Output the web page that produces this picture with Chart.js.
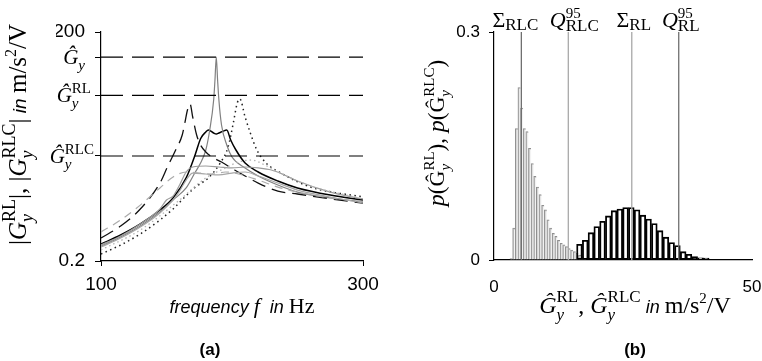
<!DOCTYPE html>
<html>
<head>
<meta charset="utf-8">
<script src="https://cdn.jsdelivr.net/npm/chart.js@4.4.1/dist/chart.umd.min.js"></script>
<style>
  html, body { margin: 0; padding: 0; background: #fff; }
  #wrap { position: relative; width: 762px; height: 361px; }
  canvas { position: absolute; top: 0; }
  #resp { left: 0; }
  #hist { left: 381px; }
</style>
</head>
<body>
<div id="wrap">
  <canvas id="resp" width="381" height="361"></canvas>
  <canvas id="hist" width="381" height="361"></canvas>
</div>
<script>
// ---- (a) frequency responses, |G| in m/s^2/V ----
const GY_HAT = 94;
const GRL_HAT = 29.6;
const GRLC_HAT = 4.75;

const fGy = [100, 115, 130, 145, 155, 165, 172, 176, 180, 183, 186, 187, 188, 189, 190, 192, 196, 200, 210, 220, 235, 250, 275, 300];
const magGy = [0.314, 0.413, 0.575, 0.877, 1.26, 1.81, 2.93, 3.84, 5.69, 10.4, 25.7, 47, 94, 47, 25.7, 12.1, 6.62, 4.61, 3.31, 2.60, 1.98, 1.60, 1.34, 1.19];

const fRL1 = [100, 115, 130, 145, 155, 165, 172, 176, 180, 182, 186, 188, 190, 193, 196, 199, 203, 210, 220, 235, 250, 275, 300];
const magRL1 = [0.334, 0.438, 0.611, 0.931, 1.34, 2.45, 5.0, 8.0, 9.80, 10.4, 9.50, 9.22, 9.50, 10.0, 10.4, 7.69, 5.69, 3.84, 2.93, 2.23, 1.81, 1.46, 1.26];

const fRL2 = [100, 115, 130, 145, 151, 157, 162, 164, 166, 168, 170, 173, 176, 180, 186, 192, 202, 210, 220, 235, 250, 275, 300];
const magRL2 = [0.400, 0.575, 0.960, 2.10, 3.51, 5.69, 8.95, 12.85, 19.0, 22.8, 15.4, 8.95, 6.62, 5.36, 4.47, 3.96, 3.11, 2.60, 2.10, 1.65, 1.51, 1.30, 1.15];

const fRL3 = [100, 115, 130, 145, 155, 164, 172, 182, 191, 197, 201, 204, 206, 210, 214, 219, 226, 236, 260, 300];
const magRL3 = [0.247, 0.324, 0.452, 0.689, 0.960, 1.38, 1.86, 2.45, 3.84, 6.23, 12.85, 23.5, 26.5, 15.4, 9.50, 5.69, 3.84, 2.93, 1.86, 1.38];

const fRLC1 = [100, 115, 130, 145, 150, 155, 160, 165, 170, 180, 190, 200, 210, 220, 230, 240, 250, 275, 300];
const magRLC1 = [0.324, 0.425, 0.611, 0.960, 1.26, 1.42, 1.98, 2.93, 3.41, 3.51, 3.41, 3.31, 3.41, 3.31, 3.11, 2.68, 2.23, 1.60, 1.30];

const fRLC2 = [100, 115, 130, 145, 155, 160, 165, 170, 180, 190, 200, 210, 220, 235, 250, 275, 300];
const magRLC2 = [0.305, 0.400, 0.558, 0.851, 1.26, 1.65, 2.30, 2.84, 2.76, 2.68, 2.84, 2.93, 2.60, 2.10, 1.70, 1.38, 1.15];

const fRLC3 = [100, 115, 130, 145, 155, 165, 175, 185, 195, 205, 220, 235, 250, 275, 300];
const magRLC3 = [0.480, 0.689, 1.08, 1.81, 2.52, 2.93, 2.84, 2.76, 2.93, 2.76, 2.30, 1.86, 1.60, 1.34, 1.19];

const fRLC4 = [100, 130, 160, 180, 195, 205, 215, 225, 240, 260, 280, 300];
const magRLC4 = [0.279, 0.509, 1.26, 2.45, 3.31, 3.96, 4.21, 3.62, 2.68, 1.92, 1.56, 1.30];

const freqTicks = [100, 300];
const magTicks = [0.2, GRLC_HAT, GRL_HAT, GY_HAT, 200];

// ---- (b) histograms of the peak magnitudes ----
const rlcBins = [3.36, 3.87, 4.38, 4.89, 5.40, 5.91, 6.42, 6.93, 7.44, 7.95, 8.46, 8.97, 9.48, 9.99, 10.50,
  11.01, 11.52, 12.03, 12.54, 13.05, 13.56, 14.07, 14.58, 15.09, 15.60, 16.11, 16.62, 17.13, 17.64];
const pRLC = [0.002, 0.042, 0.173, 0.227, 0.200, 0.173, 0.169, 0.147, 0.127, 0.110, 0.096, 0.086, 0.072, 0.066, 0.053,
  0.042, 0.035, 0.031, 0.026, 0.022, 0.020, 0.0175, 0.015, 0.013, 0.011, 0.009, 0.0066, 0.0044, 0.002];

const rlBins = [16.56, 17.68, 18.79, 19.91, 21.03, 22.15, 23.26, 24.38, 25.50, 26.61, 27.73, 28.85,
  29.96, 31.08, 32.20, 33.32, 34.43, 35.55, 36.67, 37.78, 38.90, 40.02, 41.13];
const pRL = [0.0206, 0.026, 0.036, 0.044, 0.051, 0.058, 0.065, 0.067, 0.069, 0.069, 0.066, 0.059,
  0.054, 0.048, 0.0386, 0.030, 0.023, 0.019, 0.011, 0.0075, 0.0044, 0.003, 0.0026];

const SUM_RLC = 5.3, Q95_RLC = 14.4, SUM_RL = 26.7, Q95_RL = 35.8;
const histXTicks = [0, 50];
const histYTicks = [0, 0.3];

// ---- text helpers: runs of differently styled text on one baseline ----
const SERIF = '"Liberation Serif", "DejaVu Serif", serif';
const SANS = '"Liberation Sans", Arial, sans-serif';
const ser = (s, it) => `${it ? 'italic ' : ''}${s}px ${SERIF}`;
const san = (s, it, b) => `${it ? 'italic ' : ''}${b ? 'bold ' : ''}${s}px ${SANS}`;
const T = (t, font, dy = 0, stack = false) => ({ t, font, dy, stack });

// G with subscript y and a superscript stacked above it
function gSym(sup, size, hat, upright) {
  const sm = Math.round(size * 0.7);
  const runs = [T(hat ? 'Ĝ' : 'G', ser(size, !upright)), T('y', ser(sm, true), size * 0.28)];
  if (sup) runs.push(T(sup, ser(sm), -size * 0.45, true));
  return runs;
}

function drawRich(ctx, runs, x, y, align, angle) {
  ctx.save();
  ctx.translate(x, y);
  if (angle) ctx.rotate(angle);
  let cur = 0, lastStart = 0, lastEnd = 0;
  const placed = runs.map(r => {
    ctx.font = r.font;
    const w = ctx.measureText(r.t).width;
    const start = r.stack ? lastStart : cur;
    const end = start + w;
    cur = r.stack ? Math.max(lastEnd, end) : end;
    lastStart = start;
    lastEnd = cur;
    return { r, x: start };
  });
  const x0 = align === 'center' ? -cur / 2 : align === 'right' ? -cur : 0;
  ctx.fillStyle = '#000';
  ctx.textAlign = 'left';
  ctx.textBaseline = 'alphabetic';
  placed.forEach(p => { ctx.font = p.r.font; ctx.fillText(p.r.t, x0 + p.x, p.r.dy); });
  ctx.restore();
}

const zip = (xs, ys) => xs.map((x, i) => ({ x, y: ys[i] }));

function curve(xs, ys, color, width, dash) {
  return {
    data: zip(xs, ys),
    borderColor: color,
    borderWidth: width,
    borderDash: dash || [],
    pointRadius: 0,
    cubicInterpolationMode: 'monotone',
    fill: false
  };
}

function level(v) {
  return {
    data: [{ x: 100, y: v }, { x: 300, y: v }],
    borderColor: '#000',
    borderWidth: 1.2,
    borderDash: [22, 9],
    pointRadius: 0
  };
}

// keep the plot box fixed: tick labels may hang over the side margins
const fixX = h => s => {
  s.height = h;
  s.paddingLeft = 0;
  s.paddingRight = 0;
};

const respText = {
  id: 'respText',
  afterDraw(chart) {
    const { ctx, chartArea: a, scales: { y } } = chart;
    const cx = (a.left + a.right) / 2;
    [[GY_HAT, '', 16], [GRL_HAT, 'RL', 10], [GRLC_HAT, 'RLC', 7]].forEach(([v, sup, gap]) => {
      drawRich(ctx, gSym(sup, 21, true), a.left - gap, y.getPixelForValue(v) + 7, 'right');
    });
    drawRich(ctx, [
      T('|', ser(25)), ...gSym('RL', 25), T('|, |', ser(25)), ...gSym('RLC', 25), T('|', ser(25)),
      T(' in ', san(19, true)), T('m/s', ser(25)), T('2', ser(16), -10), T('/V', ser(25))
    ], a.left - 75, (a.top + a.bottom) / 2 - 12, 'center', -Math.PI / 2);
    drawRich(ctx, [T('frequency ', san(18, true)), T('f', ser(22, true)), T('  in ', san(18, true)), T('Hz', ser(22))],
      cx + 10, a.bottom + 52, 'center');
    drawRich(ctx, [T('(a)', san(17, false, true))], cx - 22, a.bottom + 94, 'center');
  }
};

new Chart(document.getElementById('resp'), {
  type: 'line',
  data: {
    datasets: [
      level(GY_HAT), level(GRL_HAT), level(GRLC_HAT),
      curve(fRLC4, magRLC4, '#b4b4b4', 1.3, [1.5, 3]),
      curve(fRLC3, magRLC3, '#ababab', 1.2, [8, 6]),
      curve(fRLC2, magRLC2, '#a6a6a6', 1.2),
      curve(fRLC1, magRLC1, '#9c9c9c', 1.2),
      curve(fRL3, magRL3, '#222', 1.5, [1.5, 3.5]),
      curve(fRL2, magRL2, '#111', 1.3, [14, 7]),
      curve(fGy, magGy, '#808080', 1.2),
      curve(fRL1, magRL1, '#000', 1.5)
    ]
  },
  options: {
    responsive: false,
    animation: false,
    devicePixelRatio: 1,
    layout: { padding: { left: 56, right: 18, top: 32, bottom: 60 } },
    plugins: { legend: { display: false }, tooltip: { enabled: false } },
    scales: {
      x: {
        type: 'linear',
        min: 100,
        max: 300,
        afterBuildTicks: s => { s.ticks = freqTicks.map(value => ({ value })); },
        afterFit: fixX(40),
        ticks: { color: '#000', font: { family: SANS, size: 19 }, padding: 7, maxRotation: 0 },
        grid: { drawOnChartArea: false, color: '#000', tickLength: 5 },
        border: { color: '#000', width: 1.2 }
      },
      y: {
        type: 'logarithmic',
        min: 0.2,
        max: 200,
        afterBuildTicks: s => { s.ticks = magTicks.map(value => ({ value })); },
        afterFit: s => { s.width = 45; },
        ticks: {
          color: '#000', font: { family: SANS, size: 19 }, padding: 10,
          callback: v => (v === 200 ? '200' : v === 0.2 ? '0.2' : '')
        },
        grid: { drawOnChartArea: false, color: '#000', tickLength: 6 },
        border: { color: '#000', width: 1.2 }
      }
    }
  },
  plugins: [respText]
});

// ---- (b) ----
function marker(v, color) {
  return {
    type: 'line',
    data: [{ x: v, y: 0 }, { x: v, y: 0.3 }],
    xAxisID: 'x',
    borderColor: color,
    borderWidth: 1.3,
    pointRadius: 0,
    order: 0
  };
}

const histText = {
  id: 'histText',
  afterDraw(chart) {
    const { ctx, chartArea: a, scales: { x } } = chart;
    const cx = (a.left + a.right) / 2;
    const sigma = sub => [T('Σ', ser(22)), T(sub, ser(17), 3)];
    const quant = sub => [T('Q', ser(22, true)), T(sub, ser(17), 4), T('95', ser(15), -9, true)];
    drawRich(ctx, sigma('RLC'), x.getPixelForValue(SUM_RLC) - 6, a.top - 5, 'center');
    drawRich(ctx, quant('RLC'), x.getPixelForValue(Q95_RLC) + 6, a.top - 5, 'center');
    drawRich(ctx, sigma('RL'), x.getPixelForValue(SUM_RL) + 2, a.top - 5, 'center');
    drawRich(ctx, quant('RL'), x.getPixelForValue(Q95_RL) + 2, a.top - 5, 'center');
    drawRich(ctx, [
      T('p', ser(24, true)), T('(', ser(23)), ...gSym('RL', 22, true, true), T('), ', ser(23)),
      T('p', ser(24, true)), T('(', ser(23)), ...gSym('RLC', 22, true, true), T(')', ser(23))
    ], a.left - 50, (a.top + a.bottom) / 2 - 13, 'center', -Math.PI / 2);
    drawRich(ctx, [
      ...gSym('RL', 24, true), T(', ', ser(24)), ...gSym('RLC', 24, true),
      T(' in ', san(18, true)), T('m/s', ser(24)), T('2', ser(15), -10), T('/V', ser(24))
    ], cx + 12, a.bottom + 53, 'center');
    drawRich(ctx, [T('(b)', san(17, false, true))], cx + 12, a.bottom + 95, 'center');
  }
};

const barStyle = { borderSkipped: false, categoryPercentage: 1, barPercentage: 1, grouped: false };

new Chart(document.getElementById('hist'), {
  type: 'bar',
  data: {
    datasets: [
      marker(SUM_RLC, '#707070'),
      marker(Q95_RLC, '#a8a8a8'),
      marker(SUM_RL, '#a8a8a8'),
      marker(Q95_RL, '#707070'),
      Object.assign({
        data: zip(rlcBins, pRLC), xAxisID: 'x', order: 2,
        backgroundColor: 'rgba(235,235,235,0.6)', borderColor: '#8f8f8f',
        borderWidth: { left: 1, top: 1, right: 0, bottom: 0 }
      }, barStyle),
      Object.assign({
        data: zip(rlBins, pRL), xAxisID: 'x2', order: 1,
        backgroundColor: 'rgba(255,255,255,0)', borderColor: '#000', borderWidth: 1.2
      }, barStyle)
    ]
  },
  options: {
    responsive: false,
    animation: false,
    devicePixelRatio: 1,
    layout: { padding: { left: 68, right: 10, top: 32, bottom: 56 } },
    plugins: { legend: { display: false }, tooltip: { enabled: false } },
    scales: {
      x: {
        type: 'linear',
        min: 0,
        max: 50,
        offset: false,
        afterBuildTicks: s => { s.ticks = histXTicks.map(value => ({ value })); },
        afterFit: fixX(45),
        ticks: { color: '#000', font: { family: SANS, size: 17 }, padding: 17, maxRotation: 0 },
        grid: { drawOnChartArea: false, drawTicks: false, offset: false },
        border: { color: '#000', width: 1.2 }
      },
      x2: {
        type: 'linear',
        min: 0,
        max: 50,
        offset: false,
        display: false,
        grid: { offset: false }
      },
      y: {
        min: 0,
        max: 0.3,
        afterBuildTicks: s => { s.ticks = histYTicks.map(value => ({ value })); },
        afterFit: s => { s.width = 45; },
        ticks: { color: '#000', font: { family: SANS, size: 17 }, padding: 9, callback: v => String(v) },
        grid: { drawOnChartArea: false, color: '#000', tickLength: 5 },
        border: { color: '#000', width: 1.2 }
      }
    }
  },
  plugins: [histText]
});
</script>
</body>
</html>
